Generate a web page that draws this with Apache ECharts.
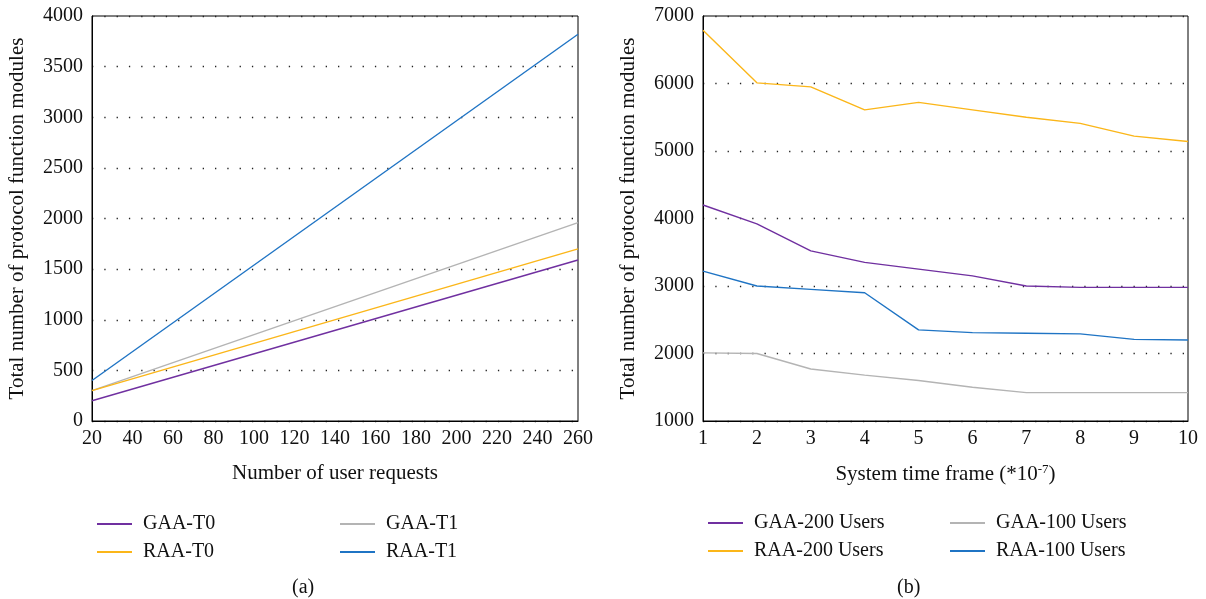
<!DOCTYPE html>
<html>
<head>
<meta charset="utf-8" />
<title>chart</title>
<script src="https://cdn.jsdelivr.net/npm/echarts@6/dist/echarts.min.js"></script>
<style>
  html, body { margin: 0; padding: 0; background: #fff; }
  #main { width: 1206px; height: 599px; }
</style>
</head>
<body>
<div id="main"></div>
<script>
// (a) straight lines, end points
var requests = [20, 260];
var gaaT0 = [200, 1590];
var raaT0 = [300, 1700];
var gaaT1 = [300, 1960];
var raaT1 = [400, 3820];

// (b)
var frames = [1, 2, 3, 4, 5, 6, 7, 8, 9, 10];
var gaa200 = [4200, 3920, 3520, 3350, 3250, 3150, 3000, 2980, 2980, 2980];
var raa200 = [6790, 6010, 5950, 5610, 5720, 5610, 5500, 5410, 5220, 5140];
var gaa100 = [2010, 2000, 1770, 1680, 1600, 1500, 1420, 1420, 1420, 1420];
var raa100 = [3220, 3000, 2950, 2900, 2350, 2310, 2300, 2290, 2210, 2200];

var PURPLE = '#7030a0', GRAY = '#b4b4b4', ORANGE = '#fbb619', BLUE = '#1f74c4';
var FONT = 'Liberation Serif';

function pairs(xs, ys) {
  return xs.map(function (x, i) { return [x, ys[i]]; });
}

var myChart = echarts.init(document.getElementById('main'));

var txt = { fontFamily: FONT, fontSize: 21, color: '#111' };
var tickTxt = { fontFamily: FONT, fontSize: 20, color: '#111' };

function legendItem(name, left, top) {
  return {
    data: [name], left: left, top: top, orient: 'horizontal',
    icon: 'rect', itemWidth: 35, itemHeight: 2, itemGap: 16,
    textStyle: { fontFamily: FONT, fontSize: 20, color: '#111', padding: [0, 0, 0, 6] },
    selectedMode: false
  };
}

function line(name, data, color, idx) {
  return {
    name: name, type: 'line', xAxisIndex: idx, yAxisIndex: idx,
    data: data, symbol: 'none', color: color,
    lineStyle: { width: 1.4, color: color }
  };
}

function yAxis(idx, min, max, step) {
  return {
    type: 'value', gridIndex: idx, min: min, max: max, interval: step,
    name: 'Total number of protocol function modules',
    nameLocation: 'middle', nameGap: 64, nameTextStyle: txt,
    axisLine: { show: true, lineStyle: { color: '#000' } },
    axisTick: { show: false },
    axisLabel: Object.assign({ margin: 9, formatter: function (v) { return String(v); } }, tickTxt),
    splitLine: { show: true, lineStyle: { color: '#222', type: [1.3, 11], width: 1.3 } }
  };
}

var option = {
  animation: false,
  title: [
    { text: '(a)', left: 287, top: 573, textStyle: { fontFamily: FONT, fontSize: 20, fontWeight: 'normal', color: '#111' } },
    { text: '(b)', left: 892, top: 573, textStyle: { fontFamily: FONT, fontSize: 20, fontWeight: 'normal', color: '#111' } }
  ],
  grid: [
    { left: 92, top: 16, width: 486, height: 405, show: true, borderColor: '#000', borderWidth: 1 },
    { left: 703, top: 16, width: 485, height: 405, show: true, borderColor: '#000', borderWidth: 1 }
  ],
  xAxis: [
    {
      type: 'value', gridIndex: 0, min: 20, max: 260, interval: 20,
      name: 'Number of user requests', nameLocation: 'middle', nameGap: 42, nameTextStyle: txt,
      axisLine: { lineStyle: { color: '#000' } }, axisTick: { show: false },
      axisLabel: Object.assign({ margin: 8 }, tickTxt),
      splitLine: { show: false }
    },
    {
      type: 'value', gridIndex: 1, min: 1, max: 10, interval: 1,
      name: 'System time frame (*10{sup|-7})', nameLocation: 'middle', nameGap: 42,
      nameTextStyle: { fontFamily: FONT, fontSize: 21, color: '#111',
        rich: { sup: { fontFamily: FONT, fontSize: 13, color: '#111', verticalAlign: 'top', padding: [0, 0, 9, 0] } } },
      axisLine: { lineStyle: { color: '#000' } }, axisTick: { show: false },
      axisLabel: Object.assign({ margin: 8 }, tickTxt),
      splitLine: { show: false }
    }
  ],
  yAxis: [yAxis(0, 0, 4000, 500), yAxis(1, 1000, 7000, 1000)],
  legend: [
    legendItem('GAA-T0', 92, 509),
    legendItem('GAA-T1', 335, 509),
    legendItem('RAA-T0', 92, 537),
    legendItem('RAA-T1', 335, 537),
    legendItem('GAA-200 Users', 703, 508),
    legendItem('GAA-100 Users', 945, 508),
    legendItem('RAA-200 Users', 703, 536),
    legendItem('RAA-100 Users', 945, 536)
  ],
  series: [
    line('GAA-T0', pairs(requests, gaaT0), PURPLE, 0),
    line('GAA-T1', pairs(requests, gaaT1), GRAY, 0),
    line('RAA-T0', pairs(requests, raaT0), ORANGE, 0),
    line('RAA-T1', pairs(requests, raaT1), BLUE, 0),
    line('RAA-200 Users', pairs(frames, raa200), ORANGE, 1),
    line('GAA-200 Users', pairs(frames, gaa200), PURPLE, 1),
    line('RAA-100 Users', pairs(frames, raa100), BLUE, 1),
    line('GAA-100 Users', pairs(frames, gaa100), GRAY, 1)
  ]
};

myChart.setOption(option);

window.onresize = function () {
  myChart.resize();
};
</script>
</body>
</html>
